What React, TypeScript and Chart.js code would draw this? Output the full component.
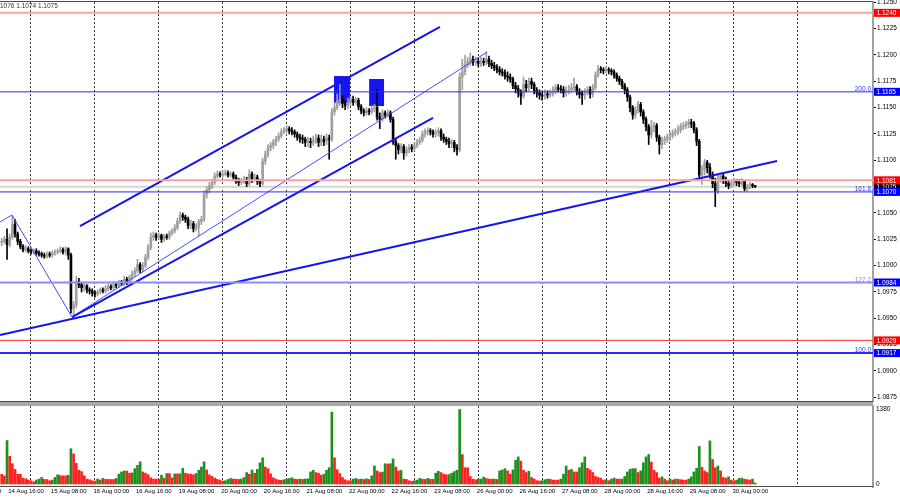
import React, { useEffect, useRef } from "react";
import { Chart, registerables } from "chart.js";

Chart.register(...registerables);

const FONT = "'Liberation Sans', Arial, sans-serif";

// ---------------- DATA ----------------
// EURUSD H1. Prices in 1/10000 (11075 = 1.1075). Bar index 0 = 14 Aug 16:00.
const FIRST_BAR = -3;
const FIRST_OPEN = 11022;

const closes = [
  // 14 Aug 13:00-23:00
  11023, 11025, 11020, 11027, 11039, 11030, 11023, 11018, 11015, 11016, 11014,
  // 15 Aug
  11013, 11014, 11012, 11011, 11010, 11009, 11011, 11010, 11012, 11013, 11014, 11015,
  11013, 11016, 11010, 10959, 10963, 10985, 10982, 10979, 10981, 10977, 10976, 10974,
  // 16 Aug
  10973, 10975, 10977, 10976, 10978, 10980, 10979, 10982, 10981, 10984, 10983, 10987,
  10984, 10989, 10992, 10995, 11001, 10996, 11000, 11008, 11017, 11027, 11029, 11027,
  // 19 Aug
  11029, 11025, 11028, 11027, 11031, 11033, 11036, 11042, 11048, 11046, 11044, 11038,
  11040, 11035, 11037, 11042, 11044, 11068, 11072, 11076, 11079, 11085, 11087, 11086,
  // 20 Aug
  11087, 11088, 11086, 11087, 11084, 11080, 11079, 11080, 11082, 11078, 11087, 11082,
  11084, 11080, 11078, 11099, 11106, 11112, 11114, 11117, 11120, 11123, 11127, 11128,
  // 21 Aug
  11130, 11128, 11127, 11125, 11122, 11121, 11120, 11117, 11118, 11117, 11119, 11121,
  11117, 11120, 11118, 11121, 11120, 11146, 11150, 11156, 11158, 11154, 11152, 11155,
  // 22 Aug
  11158, 11155, 11157, 11151, 11147, 11145, 11147, 11146, 11149, 11150, 11141, 11139,
  11145, 11143, 11145, 11139, 11118, 11114, 11110, 11113, 11107, 11110, 11112, 11111,
  // 23 Aug
  11114, 11117, 11119, 11125, 11127, 11128, 11127, 11125, 11126, 11128, 11122, 11120,
  11118, 11116, 11117, 11112, 11110, 11179, 11184, 11191, 11194, 11196, 11193, 11194,
  // 26 Aug
  11192, 11194, 11193, 11196, 11192, 11190, 11188, 11186, 11184, 11183, 11180, 11179,
  11177, 11171, 11168, 11164, 11161, 11172, 11169, 11175, 11172, 11166, 11164, 11162,
  // 27 Aug
  11161, 11163, 11162, 11164, 11166, 11169, 11168, 11167, 11164, 11166, 11167, 11169,
  11170, 11165, 11163, 11162, 11165, 11167, 11163, 11169, 11181, 11186, 11186, 11185,
  // 28 Aug
  11186, 11185, 11184, 11181, 11178, 11175, 11171, 11167, 11160, 11150, 11143, 11148,
  11153, 11146, 11139, 11132, 11124, 11131, 11133, 11122, 11115, 11119, 11120, 11122,
  // 29 Aug
  11124, 11126, 11127, 11129, 11132, 11133, 11134, 11136, 11135, 11129, 11118, 11086,
  11091, 11098, 11093, 11086, 11078, 11071, 11082, 11085, 11081, 11078, 11076, 11078,
  // 30 Aug 00:00-08:00
  11080, 11079, 11078, 11080, 11073, 11075, 11077, 11076, 11075,
];

const highs = [
  11026, 11028, 11035, 11030, 11047, 11044, 11032, 11025, 11020, 11019, 11018,
  11016, 11016, 11016, 11014, 11013, 11012, 11013, 11013, 11014, 11015, 11016, 11018,
  11017, 11018, 11017, 11012, 10966, 10990, 10988, 10984, 10984, 10982, 10979, 10978,
  10976, 10977, 10979, 10979, 10981, 10983, 10982, 10985, 10984, 10986, 10986, 10990,
  10989, 10991, 10995, 10998, 11006, 11003, 11003, 11011, 11020, 11031, 11032, 11031,
  11031, 11030, 11030, 11030, 11033, 11035, 11039, 11045, 11051, 11050, 11048, 11046,
  11043, 11042, 11040, 11044, 11047, 11071, 11075, 11079, 11082, 11088, 11090, 11089,
  11090, 11091, 11090, 11089, 11089, 11086, 11083, 11083, 11085, 11084, 11091, 11089,
  11087, 11086, 11082, 11102, 11109, 11115, 11117, 11120, 11123, 11126, 11130, 11131,
  11133, 11132, 11131, 11129, 11127, 11125, 11124, 11122, 11122, 11121, 11123, 11125,
  11124, 11124, 11123, 11125, 11124, 11149, 11155, 11163, 11172, 11161, 11157, 11159,
  11161, 11161, 11160, 11159, 11153, 11149, 11150, 11149, 11152, 11153, 11167, 11145,
  11148, 11147, 11148, 11147, 11141, 11120, 11116, 11116, 11115, 11113, 11115, 11115,
  11117, 11120, 11122, 11128, 11130, 11131, 11130, 11129, 11129, 11131, 11130, 11125,
  11122, 11121, 11120, 11119, 11115, 11183, 11196, 11200, 11198, 11202, 11199, 11198,
  11197, 11198, 11197, 11203, 11199, 11195, 11193, 11191, 11189, 11187, 11186, 11184,
  11182, 11179, 11174, 11171, 11167, 11179, 11176, 11178, 11178, 11174, 11169, 11167,
  11165, 11167, 11166, 11167, 11170, 11172, 11172, 11171, 11170, 11170, 11171, 11173,
  11178, 11172, 11168, 11166, 11168, 11170, 11170, 11172, 11184, 11190, 11189, 11188,
  11189, 11188, 11187, 11186, 11183, 11180, 11177, 11173, 11169, 11162, 11152, 11151,
  11156, 11155, 11148, 11141, 11134, 11138, 11136, 11135, 11124, 11122, 11123, 11125,
  11127, 11129, 11130, 11133, 11135, 11136, 11137, 11139, 11139, 11137, 11131, 11120,
  11095, 11101, 11100, 11097, 11089, 11083, 11087, 11088, 11087, 11084, 11081, 11081,
  11083, 11082, 11082, 11083, 11081, 11077, 11079, 11078, 11076,
];

const lows = [
  11019, 11021, 11006, 11018, 11025, 11027, 11020, 11016, 11013, 11013, 11012,
  11011, 11011, 11010, 11009, 11008, 11007, 11007, 11008, 11008, 11010, 11011, 11012,
  11011, 11010, 11006, 10955, 10951, 10960, 10979, 10975, 10976, 10974, 10973, 10971,
  10970, 10971, 10973, 10974, 10974, 10976, 10977, 10977, 10979, 10979, 10981, 10981,
  10982, 10982, 10986, 10990, 10993, 10993, 10994, 10998, 11006, 11015, 11024, 11024,
  11025, 11022, 11023, 11025, 11025, 11029, 11031, 11034, 11040, 11043, 11041, 11035,
  11035, 11032, 11033, 11028, 11039, 11042, 11064, 11069, 11073, 11077, 11083, 11084,
  11084, 11085, 11084, 11084, 11082, 11078, 11076, 11077, 11078, 11075, 11076, 11079,
  11080, 11077, 11075, 11076, 11096, 11103, 11109, 11111, 11114, 11118, 11121, 11125,
  11126, 11125, 11124, 11122, 11119, 11117, 11116, 11113, 11113, 11112, 11114, 11116,
  11113, 11114, 11114, 11115, 11101, 11118, 11143, 11148, 11152, 11150, 11148, 11149,
  11152, 11152, 11153, 11148, 11144, 11142, 11143, 11143, 11144, 11146, 11138, 11130,
  11137, 11140, 11141, 11136, 11115, 11101, 11106, 11107, 11101, 11104, 11107, 11108,
  11109, 11112, 11115, 11117, 11122, 11124, 11124, 11122, 11122, 11123, 11119, 11117,
  11115, 11112, 11112, 11108, 11105, 11108, 11167, 11181, 11188, 11190, 11190, 11190,
  11189, 11189, 11190, 11191, 11189, 11187, 11185, 11183, 11181, 11180, 11177, 11175,
  11174, 11168, 11164, 11160, 11153, 11159, 11165, 11166, 11168, 11163, 11160, 11158,
  11157, 11158, 11159, 11160, 11161, 11163, 11165, 11164, 11160, 11161, 11163, 11164,
  11166, 11162, 11159, 11153, 11158, 11162, 11159, 11160, 11167, 11179, 11183, 11182,
  11183, 11182, 11181, 11178, 11175, 11172, 11168, 11163, 11156, 11146, 11139, 11140,
  11145, 11142, 11135, 11128, 11115, 11121, 11127, 11118, 11106, 11111, 11115, 11117,
  11119, 11121, 11123, 11124, 11126, 11129, 11130, 11131, 11131, 11126, 11114, 11082,
  11077, 11086, 11088, 11083, 11074, 11056, 11068, 11079, 11078, 11075, 11073, 11074,
  11076, 11076, 11075, 11076, 11071, 11071, 11073, 11074, 11074,
];

const volumes = [
  180, 150, 805, 514, 375, 272, 181, 180, 109, 97, 73,
  61, 42, 73, 91, 121, 85, 84, 61, 73, 121, 170, 157,
  151, 150, 163, 653, 557, 381, 254, 230, 151, 91, 79, 61,
  54, 91, 73, 103, 85, 85, 84, 84, 103, 182, 224, 242,
  240, 200, 205, 284, 345, 411, 224, 200, 170, 115, 91, 90,
  89, 163, 109, 194, 193, 115, 188, 187, 190, 290, 200, 188,
  182, 170, 194, 254, 314, 411, 260, 170, 139, 109, 85, 73,
  54, 61, 85, 103, 91, 90, 85, 91, 121, 212, 182, 260,
  200, 272, 393, 484, 314, 284, 188, 115, 91, 73, 67, 79,
  91, 103, 115, 91, 85, 91, 85, 91, 97, 224, 254, 212,
  200, 163, 182, 254, 303, 1331, 484, 266, 194, 121, 79, 61,
  61, 91, 103, 85, 91, 85, 97, 85, 151, 333, 242, 212,
  220, 375, 370, 375, 466, 315, 242, 250, 91, 85, 61, 48,
  61, 73, 103, 91, 85, 103, 91, 85, 200, 236, 212, 182,
  170, 175, 200, 230, 254, 1380, 545, 302, 300, 139, 91, 79,
  91, 92, 127, 103, 91, 90, 91, 85, 242, 260, 284, 242,
  182, 260, 442, 502, 424, 254, 212, 236, 121, 91, 61, 55,
  61, 79, 91, 90, 73, 72, 71, 91, 182, 333, 254, 272,
  224, 223, 303, 393, 502, 290, 260, 212, 139, 121, 109, 73,
  80, 61, 91, 109, 91, 90, 91, 139, 224, 272, 284, 285,
  212, 242, 393, 502, 545, 405, 254, 212, 109, 133, 91, 61,
  91, 73, 91, 90, 80, 73, 72, 91, 133, 224, 290, 696,
  309, 242, 212, 799, 454, 302, 333, 242, 121, 109, 133, 73,
  61, 73, 103, 109, 91, 80, 73, 91, 18,
];

const dayStarts = [8, 32, 56, 80, 104, 128, 152, 176, 200, 224, 248, 272, 296];
const timeLabelBars = [-16, 0, 16, 32, 48, 64, 80, 96, 112, 128, 144, 160, 176, 192, 208, 224, 240, 256, 272];
const timeLabels = [
  "14 Aug 00:00", "14 Aug 16:00", "15 Aug 08:00", "16 Aug 00:00", "16 Aug 16:00",
  "19 Aug 08:00", "20 Aug 00:00", "20 Aug 16:00", "21 Aug 08:00", "22 Aug 00:00",
  "22 Aug 16:00", "23 Aug 08:00", "26 Aug 00:00", "26 Aug 16:00", "27 Aug 08:00",
  "28 Aug 00:00", "28 Aug 16:00", "29 Aug 08:00", "30 Aug 00:00",
];
const priceTicks = [10875, 10900, 10925, 10950, 10975, 11000, 11025, 11050, 11075, 11100, 11125, 11150, 11175, 11200, 11225, 11250];
const volumeTicks = [0, 1380];

const levels = [11240, 11165, 11081, 11075, 11070, 10984, 10929, 10917];
const fibLevels = [11165, 11070, 10984, 10917];
const fibLabels = ["200.0", "161.8", "127.2", "100.0"];

const trendBars = [[26.4, 161.6], [23.4, 159.0], [23.4, 179.3], [-3.64, 288.2], [-3.64, 0.86, 23.4]];
const trendPrices = [[11037.6, 11226.6], [10951.2, 11140.2], [10951.2, 11202.8], [10934.2, 11099.3], [11041.4, 11048.1, 10951.2]];

const boxBars = [[121.8, 127.8], [135.0, 140.6]];
const boxPrices = [[11154.3, 11180.0], [11151.5, 11177.2]];

const headerText = "1076 1.1074 1.1075";

// ---------------- AXIS RANGES & STYLES ----------------
const X_MIN = -3.643;
const X_MAX = 324.25;
const P_MIN = 10871.5;
const P_MAX = 11250.3;
const V_MIN = -55.6;
const V_MAX = 1444.8;

const BULL = "#a0a0a0";
const BEAR = "#000000";
const VOL_UP = "#1f8f1f";
const VOL_DN = "#ff2020";
const GRID = "#3a3a3a";
const AXIS = "#a0a0a0";
const AXIS_FONT = 6.5;
const TIME_FONT = 6;

const levelStyle = [
  { color: "#f5a3a3", width: 2, box: "#ff0000" },
  { color: "#2a2aff", width: 1, box: "#0000ff" },
  { color: "#f5a3a3", width: 2, box: "#ff0000" },
  { color: "#d6d6d6", width: 2, box: "#000000" },
  { color: "#2a2aff", width: 1, box: "#0000ff" },
  { color: "#8c8cff", width: 2, box: "#0000ff" },
  { color: "#ff3a3a", width: 1, box: "#ff0000" },
  { color: "#2a2aff", width: 2, box: "#0000ff" },
];
const boxOrder = [3, 0, 1, 2, 4, 5, 6, 7];
const trendStyle = [
  { color: "#1414f0", width: 2 },
  { color: "#1414f0", width: 2 },
  { color: "#4a4aff", width: 1 },
  { color: "#1414f0", width: 2 },
  { color: "#4a4aff", width: 1 },
];
const fibColors = ["#3a3aff", "#3a3aff", "#8c8cff", "#3a3aff"];

function fixBox(w?: number, h?: number) {
  return (s: any) => {
    if (w !== undefined) s.width = w;
    if (h !== undefined) s.height = h;
    s.paddingTop = 0;
    s.paddingBottom = 0;
    s.paddingLeft = 0;
    s.paddingRight = 0;
  };
}

const fmt = (v: number) => (v / 10000).toFixed(4);

export default function App() {
  const refA = useRef<HTMLCanvasElement>(null);
  const refB = useRef<HTMLCanvasElement>(null);

  useEffect(() => {
    Chart.defaults.font.family = FONT;
    const bars = closes.map((_, i) => FIRST_BAR + i);
    const opens = closes.map((_, i) => (i === 0 ? FIRST_OPEN : closes[i - 1]));
    const candleColors = closes.map((c, i) => (c > opens[i] ? BULL : BEAR));
    const volColors = volumes.map((v, i) => (i > 0 && v > volumes[i - 1] ? VOL_UP : VOL_DN));

    const levelSets = levels.map((v, i) => ({
      type: "line" as const,
      data: [{ x: X_MIN, y: v }, { x: X_MAX, y: v }],
      borderColor: levelStyle[i].color,
      borderWidth: levelStyle[i].width,
      pointRadius: 0,
      fill: false,
      order: i === 3 ? 10 : 0,
    }));
    const trendSets = trendBars.map((xs, i) => ({
      type: "line" as const,
      data: xs.map((x, j) => ({ x, y: trendPrices[i][j] })),
      borderColor: trendStyle[i].color,
      borderWidth: trendStyle[i].width,
      pointRadius: 0,
      fill: false,
      tension: 0,
      order: 0,
    }));

    const rectPlugin = {
      id: "rects",
      beforeDatasetsDraw(chart: any) {
        const { ctx } = chart;
        const xs = chart.scales.x;
        const ys = chart.scales.y;
        ctx.save();
        ctx.fillStyle = "#1515f2";
        boxBars.forEach((b, i) => {
          const x1 = xs.getPixelForValue(b[0]);
          const x2 = xs.getPixelForValue(b[1]);
          const y1 = ys.getPixelForValue(boxPrices[i][1]);
          const y2 = ys.getPixelForValue(boxPrices[i][0]);
          ctx.fillRect(x1, y1, x2 - x1, y2 - y1);
        });
        ctx.restore();
      },
    };

    const framePluginA = {
      id: "frameA",
      afterDraw(chart: any) {
        const { ctx, chartArea } = chart;
        const ys = chart.scales.y;
        ctx.save();
        ctx.fillStyle = "#4a4a4a";
        ctx.fillRect(0, chartArea.top - 1, chartArea.right, 1);
        ctx.fillRect(0, chartArea.bottom, chartArea.right, 1);
        ctx.font = `${AXIS_FONT}px ${FONT}`;
        ctx.fillStyle = "#303040";
        ctx.textAlign = "left";
        ctx.textBaseline = "middle";
        ctx.fillText(headerText, 0, 6);
        ctx.textAlign = "right";
        ctx.textBaseline = "alphabetic";
        fibLevels.forEach((v, i) => {
          ctx.fillStyle = fibColors[i];
          ctx.fillText(fibLabels[i], chartArea.right - 2, ys.getPixelForValue(v) - 1);
        });
        ctx.textAlign = "left";
        ctx.textBaseline = "middle";
        boxOrder.forEach((i) => {
          const y = ys.getPixelForValue(levels[i]);
          ctx.fillStyle = levelStyle[i].box;
          ctx.fillRect(chartArea.right + 1, y - 4, 900 - chartArea.right - 1, 8);
          ctx.fillStyle = "#ffffff";
          ctx.fillText(fmt(levels[i]), chartArea.right + 3.5, y + 0.5);
        });
        ctx.restore();
      },
    };

    const framePluginB = {
      id: "frameB",
      afterDraw(chart: any) {
        const { ctx, chartArea } = chart;
        ctx.save();
        ctx.fillStyle = "#a8a8a8";
        ctx.fillRect(0, 0, chartArea.right, 4);
        ctx.fillStyle = "#4a4a4a";
        ctx.fillRect(0, chartArea.bottom - 1, chartArea.right, 1);
        ctx.restore();
      },
    };

    const gridX = {
      type: "linear" as const,
      min: X_MIN,
      max: X_MAX,
      offset: false,
      afterBuildTicks: (s: any) => {
        s.ticks = dayStarts.map((v) => ({ value: v }));
      },
      afterFit: fixBox(undefined, 0),
      ticks: { display: false },
      grid: { display: true, drawTicks: false, color: GRID, lineWidth: 1, offset: false },
      border: { display: false, dash: [2, 2] },
    };

    const chartA = new Chart(refA.current as HTMLCanvasElement, {
      type: "bar",
      data: {
        datasets: [
          ...levelSets,
          ...trendSets,
          {
            type: "bar" as const,
            data: bars.map((k, i) => ({ x: k, y: [lows[i], highs[i]] })),
            backgroundColor: candleColors,
            borderWidth: 0,
            barThickness: 1,
            grouped: false,
            order: 5,
          },
          {
            type: "bar" as const,
            data: bars.map((k, i) => ({ x: k, y: [opens[i], closes[i]] })),
            backgroundColor: candleColors,
            borderWidth: 0,
            barThickness: 2,
            minBarLength: 1,
            grouped: false,
            order: 4,
          },
        ] as any,
      },
      options: {
        animation: false,
        responsive: false,
        maintainAspectRatio: false,
        events: [],
        layout: { padding: { top: 2, bottom: 1, left: 0, right: 0 } },
        plugins: { legend: { display: false }, tooltip: { enabled: false } },
        scales: {
          x: gridX as any,
          y: {
            position: "right",
            min: P_MIN,
            max: P_MAX,
            afterBuildTicks: (s: any) => {
              s.ticks = priceTicks.map((v) => ({ value: v }));
            },
            afterFit: fixBox(27),
            ticks: {
              font: { family: FONT, size: AXIS_FONT },
              color: "#000",
              padding: 1,
              autoSkip: false,
              callback: (v: any) => fmt(Number(v)),
            },
            grid: { display: true, drawOnChartArea: false, drawTicks: true, tickLength: 3, color: "#000" },
            border: { display: true, color: AXIS, width: 2 },
          } as any,
        },
      },
      plugins: [rectPlugin, framePluginA],
    });

    const chartB = new Chart(refB.current as HTMLCanvasElement, {
      type: "bar",
      data: {
        datasets: [
          {
            data: bars.map((k, i) => ({ x: k, y: volumes[i] })),
            backgroundColor: volColors,
            borderWidth: 0,
            barThickness: 2,
            grouped: false,
          } as any,
        ],
      },
      options: {
        animation: false,
        responsive: false,
        maintainAspectRatio: false,
        events: [],
        layout: { padding: { top: 4, bottom: 0, left: 0, right: 0 } },
        plugins: { legend: { display: false }, tooltip: { enabled: false } },
        scales: {
          x: gridX as any,
          x2: {
            type: "linear",
            position: "bottom",
            min: X_MIN,
            max: X_MAX,
            offset: false,
            afterBuildTicks: (s: any) => {
              s.ticks = timeLabelBars.map((v) => ({ value: v }));
            },
            afterFit: fixBox(undefined, 13),
            ticks: {
              font: { family: FONT, size: TIME_FONT },
              color: "#000",
              padding: 1,
              autoSkip: false,
              maxRotation: 0,
              minRotation: 0,
              align: "start",
              labelOffset: -1.5,
              callback: (_v: any, i: number) => timeLabels[i],
            },
            grid: { display: false, drawOnChartArea: false, drawTicks: false },
            border: { display: false },
          } as any,
          y: {
            position: "right",
            min: V_MIN,
            max: V_MAX,
            afterBuildTicks: (s: any) => {
              s.ticks = volumeTicks.map((v) => ({ value: v }));
            },
            afterFit: fixBox(27),
            ticks: {
              font: { family: FONT, size: AXIS_FONT },
              color: "#000",
              padding: 3,
              autoSkip: false,
              callback: (v: any) => String(v),
            },
            grid: { display: false, drawTicks: false },
            border: { display: true, color: AXIS, width: 2 },
          } as any,
        },
      },
      plugins: [framePluginB],
    });

    return () => {
      chartA.destroy();
      chartB.destroy();
    };
  }, []);

  return (
    <div style={{ position: "absolute", left: 0, top: 0, width: 900, height: 500, background: "#fff", overflow: "hidden" }}>
      <canvas ref={refA} width={900} height={402} style={{ position: "absolute", left: 0, top: 0, width: 900, height: 402 }} />
      <canvas ref={refB} width={900} height={98} style={{ position: "absolute", left: 0, top: 402, width: 900, height: 98 }} />
    </div>
  );
}
